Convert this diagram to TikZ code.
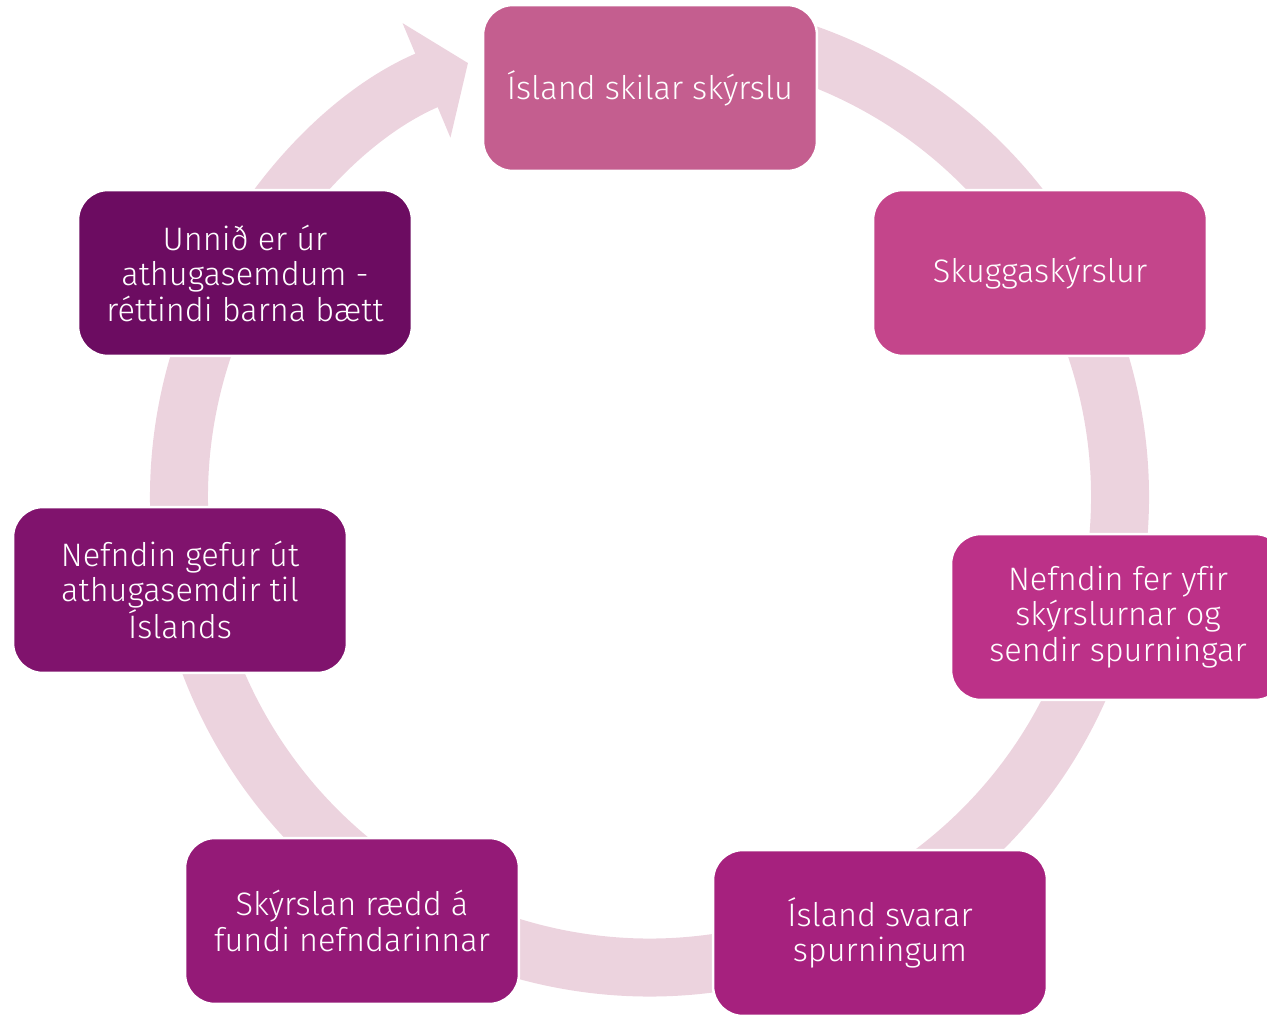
\documentclass[tikz,border=0pt]{standalone}
\usepackage{fontspec}
\setmainfont[Ligatures=NoCommon]{Fira Sans Light}
\usetikzlibrary{arrows.meta}
\definecolor{ringpink}{HTML}{ECD3DE}
\definecolor{stageA}{HTML}{C45E8F}
\definecolor{stageB}{HTML}{C4458B}
\definecolor{stageC}{HTML}{BC3188}
\definecolor{stageD}{HTML}{A6217E}
\definecolor{stageE}{HTML}{941A77}
\definecolor{stageF}{HTML}{80136D}
\definecolor{stageG}{HTML}{6C0C61}
\tikzset{
  stage/.style={draw=white, line width=0.05cm, rounded corners=0.6cm,
    minimum width=6.68cm, minimum height=3.32cm, inner sep=0pt,
    text=white, align=center, font=\fontsize{18.5}{20.2}\selectfont},
  ring/.style={draw=ringpink, line width=1.16cm,
    -{Triangle[length=0.9cm,width=2.44cm]}}
}
\begin{document}
\begin{tikzpicture}[x=0.02cm,y=-0.02cm]
\useasboundingbox (0,0) rectangle (1267,1014);
\clip (0,0) rectangle (1267,1014);
\coordinate (ctr) at (649.5,497);
\draw[ring] (ctr) ++(72:9.41cm) arc[start angle=72, end angle=-247.3, radius=9.41cm];
\node[stage, fill=stageA] (island) at (650,88) {Ísland skilar skýrslu};
\node[stage, fill=stageB] (skugga) at (1040,273) {Skuggaskýrslur};
\node[stage, fill=stageC] (nefndfer) at (1118,617) {Nefndin fer yfir\\skýrslurnar og\\sendir spurningar};
\node[stage, fill=stageD] (svarar) at (880,933) {Ísland svarar\\spurningum};
\node[stage, fill=stageE] (raedd) at (352,921) {Skýrslan rædd á\\fundi nefndarinnar};
\node[stage, fill=stageF] (gefur) at (180,590) {Nefndin gefur út\\athugasemdir til\\Íslands};
\node[stage, fill=stageG] (unnid) at (245,273) {Unnið er úr\\athugasemdum -\\réttindi barna bætt};
\end{tikzpicture}
\end{document}
